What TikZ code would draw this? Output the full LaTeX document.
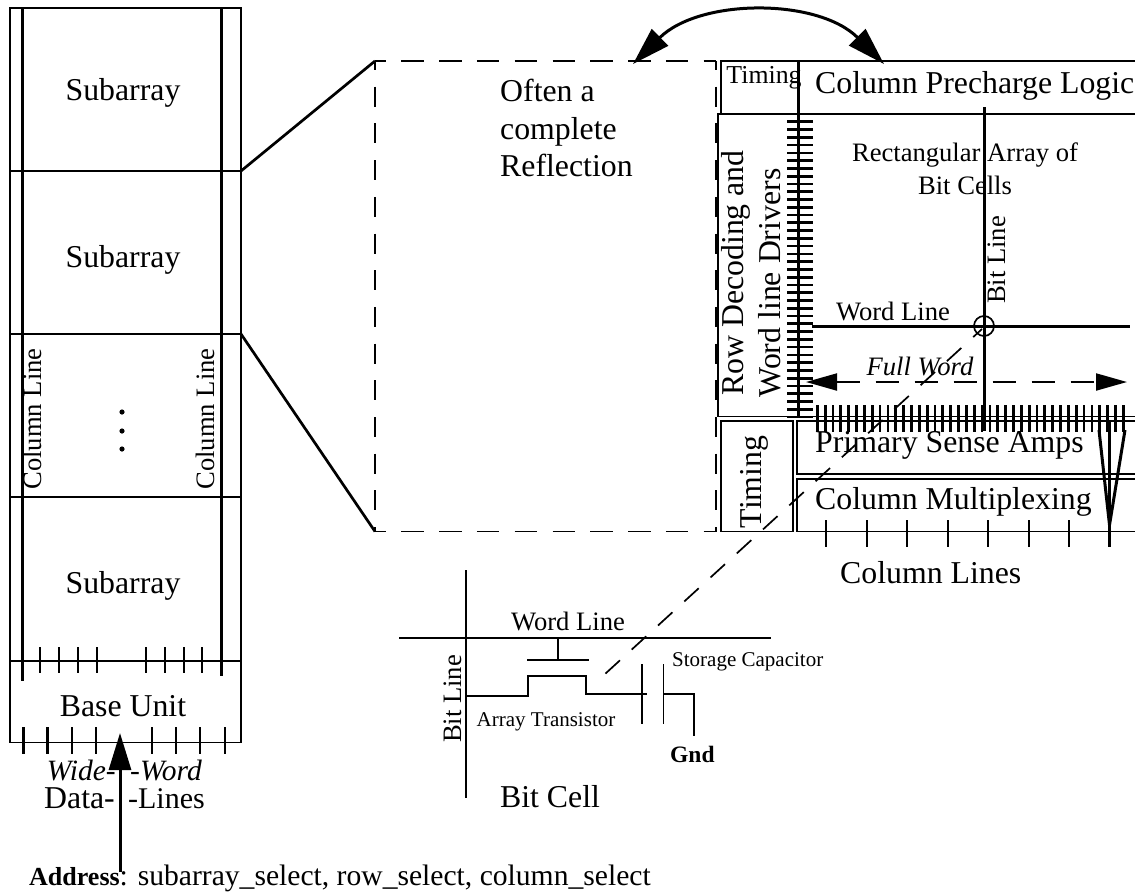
\documentclass[tikz,border=0pt]{standalone}
\usepackage{fontspec}
\setmainfont{Liberation Serif}
\usetikzlibrary{arrows.meta}
\newcommand{\bigsize}{\fontsize{31.8}{31.8}\selectfont}
\newcommand{\midsize}{\fontsize{26.6}{26.6}\selectfont}
\newcommand{\smallsize}{\fontsize{21}{21}\selectfont}
\tikzset{
  bigtext/.style={inner sep=0, anchor=base, font=\bigsize},
  midtext/.style={inner sep=0, anchor=base, font=\midsize},
  smalltext/.style={inner sep=0, anchor=base, font=\smallsize},
  thin line/.style={line width=1.7pt},
  thick line/.style={line width=3pt},
  tick line/.style={line width=2.7pt},
  dash top/.style={line width=1.8pt, dash pattern=on 22.5pt off 15.3pt, dash phase=11.5pt},
  dash side/.style={line width=1.8pt, dash pattern=on 20pt off 16.7pt, dash phase=11pt},
  bigtip/.style={-{Triangle[length=37pt,width=22pt]}},
}
\begin{document}
\begin{tikzpicture}[x=1pt, y=-1pt]
\useasboundingbox (0,0) rectangle (1135,892);
% subarray stack
\draw[thin line] (10,8) rectangle (241,742.5);
\foreach \y in {171,334,497,661} \draw[thin line] (10,\y)--(241,\y);
\draw[thick line] (22,8)--(22,681);
\draw[thick line] (221,8)--(221,676);
\foreach \x in {40,59,78,97,146,165,184,202} \draw[tick line] (\x,647)--(\x,673);
\foreach \x in {23.5,47.5,72,96,152,176,200,225} \draw[tick line] (\x,727)--(\x,754);
\node[bigtext] (sub1) at (123,100) {Subarray};
\node[bigtext] (sub2) at (123,267) {Subarray};
\node[bigtext] (sub3) at (123,593) {Subarray};
\node[bigtext] (base) at (123,716) {Base Unit};
\node[midtext, rotate=90] (col1) at (41,419) {Column Line};
\node[midtext, rotate=90] (col2) at (214,419) {Column Line};
\foreach \y in {412,431,449} \fill (122,\y) circle (2.6);
\node[bigtext, anchor=base east, font=\fontsize{29.5}{29.5}\selectfont\itshape] (wide) at (116,780) {Wide-};
\node[bigtext, anchor=base east, font=\fontsize{29.5}{29.5}\selectfont\itshape] (word) at (202,780) {-Word};
\node[bigtext, anchor=base east] (data) at (115,808) {Data-};
\node[bigtext, anchor=base east, font=\fontsize{30}{30}\selectfont] (lines) at (205,808) {-Lines};
\node[bigtext, anchor=base west, font=\fontsize{29.6}{29.6}\selectfont] (addr) at (29,885) {{\fontsize{26}{26}\selectfont\textbf{Address}}: subarray\_select, row\_select, column\_select};
\coordinate (addrtop) at (120,733);
\coordinate (addrend) at (120,872);
\draw[thick line, bigtip] (addrend)--(addrtop);
% zoom lines and reflected part
\draw[tick line] (241,171)--(375,61);
\draw[tick line] (241,334)--(375,531.5);
\draw[dash top] (375,61)--(716,61);
\draw[dash top] (375,531.5)--(716,531.5);
\draw[dash side] (375,61)--(375,531.5);
\draw[dash side] (716,61)--(716,531.5);
\node[bigtext, anchor=base west] (often) at (500,101) {Often a};
\node[bigtext, anchor=base west] (compl) at (500,139) {complete};
\node[bigtext, anchor=base west] (refl) at (500,176) {Reflection};
\coordinate (refleft) at (633,64);
\coordinate (refright) at (884,64);
\draw[thick line, {Triangle[length=38pt,width=23pt]}-{Triangle[length=38pt,width=23pt]}] (refleft) .. controls (700,-2) and (818,-2) .. (refright);
% blocks of the array
\draw[thin line] (720.7,113)--(720.7,61)--(1135,61);
\draw[thin line] (1135,114)--(718.3,114)--(718.3,416.5)--(1135,416.5);
\draw[thin line] (720.7,421) rectangle (793,531.5);
\draw[thin line] (1135,421)--(797,421)--(797,474)--(1135,474);
\draw[thin line] (1135,479)--(797,479)--(797,531.5)--(1135,531.5);
\node[midtext, font=\fontsize{25.8}{25.8}\selectfont] (timing1) at (764,83) {Timing};
\node[bigtext, anchor=base west] (prech) at (815,93.5) {Column Precharge Logic};
\node[bigtext, rotate=90] (rowdec) at (743,273) {Row Decoding and};
\node[bigtext, rotate=90] (wldrv) at (780,283) {Word line Drivers};
\node[bigtext, rotate=90] (timing2) at (761,482) {Timing};
\node[bigtext, anchor=base west] (sense) at (815,452) {Primary Sense Amps};
\node[bigtext, anchor=base west] (mux) at (815,509) {Column Multiplexing};
\node[bigtext, anchor=base west] (collines) at (840,583) {Column Lines};
\node[midtext] (rect1) at (965,161) {Rectangular Array of};
\node[midtext] (rect2) at (965,194) {Bit Cells};
\draw[thick line] (798,61)--(798,417);
\foreach \k in {0,...,39} \draw[tick line] (787,114+7.77*\k)--(813,114+7.77*\k);
\foreach \k in {0,...,39} \draw[tick line] (817.3+7.846*\k,405)--(817.3+7.846*\k,431.5);
\draw[thick line] (984,107)--(984,431);
\draw[thick line] (812,326)--(1130,326);
\draw[thin line] (984,326) circle (10);
\node[midtext, rotate=90] (bitline) at (1005,260) {Bit Line};
\node[midtext] (wordline) at (893,320) {Word Line};
\node[midtext, font=\midsize\itshape] (fullword) at (920,375) {Full Word};
\coordinate (fullleft) at (806,382);
\coordinate (fullright) at (1127,382);
\draw[line width=2pt, dash pattern=on 23pt off 16pt, {Triangle[length=31pt,width=17pt]}-{Triangle[length=31pt,width=17pt]}] (fullleft)--(fullright);
\draw[thick line] (1099,430)--(1109.5,525);
\draw[thick line] (1125,430)--(1109.5,525);
\draw[thick line] (1109.5,420)--(1109.5,547);
\foreach \x in {826,867,907,948,988,1029,1069} \draw[tick line] (\x,520)--(\x,547);
% the bit cell
\draw[line width=1.7pt, dash pattern=on 19.6pt off 16pt, dash phase=7.6pt] (982,329)--(605,674);
\draw[thin line] (399,638)--(771,638);
\draw[thin line] (466,570)--(466,798);
\draw[thin line] (558,638)--(558,660);
\draw[thin line] (527,660)--(589,660);
\draw[thin line] (466,696)--(528,696)--(528,676)--(586,676)--(586,694)--(647,694);
\draw[thin line] (642,664)--(642,724);
\draw[thin line] (663.5,664)--(663.5,724);
\draw[thin line] (663.5,694)--(694,694)--(694,736);
\node[midtext] (cellword) at (568,630) {Word Line};
\node[midtext, rotate=90] (cellbit) at (461,699) {Bit Line};
\node[smalltext] (trans) at (546,726) {Array Transistor};
\node[smalltext, anchor=base west] (cap) at (672,666) {Storage Capacitor};
\node[smalltext, anchor=base west, font=\fontsize{23.5}{23.5}\selectfont\bfseries] (gnd) at (670,762) {Gnd};
\node[bigtext] (bitcell) at (550,807) {Bit Cell};
\end{tikzpicture}
\end{document}
